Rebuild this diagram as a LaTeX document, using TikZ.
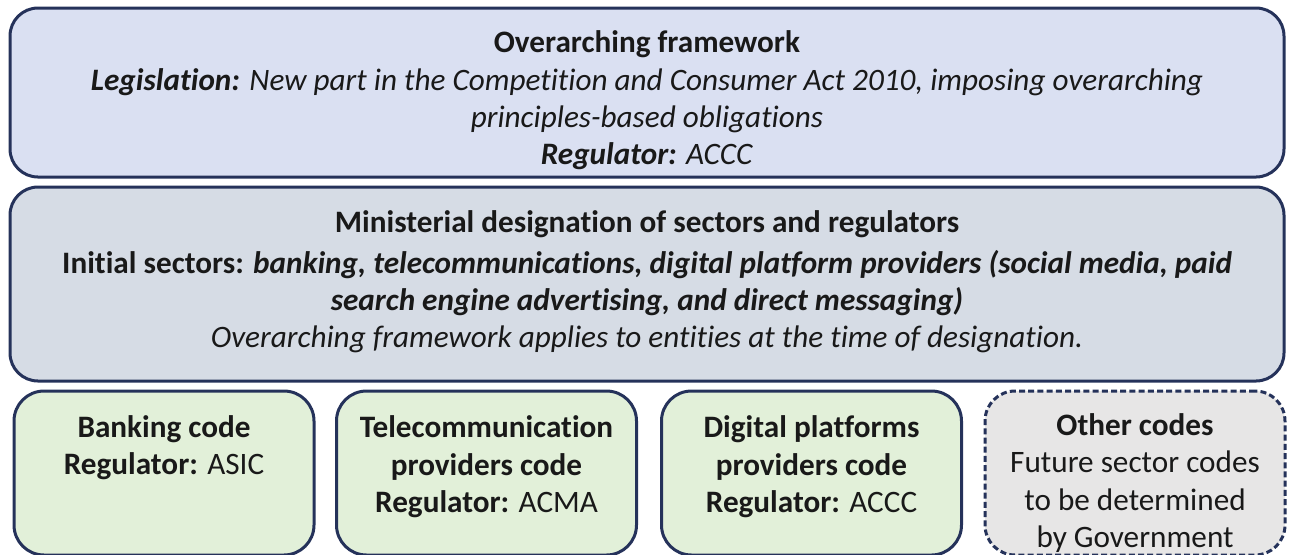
\documentclass[tikz,border=0pt]{standalone}
\usepackage{fontspec}
\setmainfont{Carlito}[Ligatures=NoCommon]
\usetikzlibrary{positioning}

\definecolor{rim}{HTML}{25325A}
\definecolor{lavender}{HTML}{DAE0F2}
\definecolor{slate}{HTML}{D6DCE5}
\definecolor{mint}{HTML}{E2F0D9}
\definecolor{ash}{HTML}{E7E6E6}

\tikzset{
  panel/.style={draw=rim, line width=1.5pt, rounded corners=14pt, inner sep=0pt},
  codebox/.style={panel, rounded corners=15pt, fill=mint, minimum width=150pt, minimum height=82pt},
  futurebox/.style={codebox, fill=ash, dash pattern=on 3pt off 1.6pt},
  txt/.style={align=center, inner sep=0pt, text=black!90, font=\fontsize{15.6}{18.7}\selectfont}
}

\begin{document}
\begin{tikzpicture}[x=0.5pt,y=-0.5pt]
\useasboundingbox (0,0) rectangle (1292,554);

% top layer: the framework
\node[panel, fill=lavender, minimum width=637pt, minimum height=84.5pt] (frame) at (647,92.5) {};
\node[txt] (frametext) at (647,100.5) {\textbf{Overarching framework}\\
  \textit{\textbf{Legislation:} New part in the Competition and Consumer Act 2010, imposing overarching}\\
  \textit{principles-based obligations}\\
  \textit{\textbf{Regulator:} ACCC}};

% middle layer: designation
\node[panel, fill=slate, minimum width=637pt, minimum height=97pt] (desig) at (647,284) {};
\node[txt] (desigtext) at (647,282) {\textbf{Ministerial designation of sectors and regulators}\\[1.5pt]
  \textbf{Initial sectors: \textit{banking, telecommunications, digital platform providers (social media, paid}}\\
  \textbf{\textit{search engine advertising, and direct messaging)}}\\
  \textit{Overarching framework applies to entities at the time of designation.}};

% bottom layer: sector codes
\node[codebox] (bank) at (164,473) {};
\node[txt] (banktext) at (164,447.5) {\textbf{Banking code}\\ \textbf{Regulator:} ASIC};

\node[codebox] (telco) at (486.5,473) {};
\node[txt] (telcotext) at (486.5,467) {\textbf{Telecommunication}\\ \textbf{providers code}\\ \textbf{Regulator:} ACMA};

\node[codebox] (digital) at (811.5,473) {};
\node[txt] (digitaltext) at (811.5,467) {\textbf{Digital platforms}\\ \textbf{providers code}\\ \textbf{Regulator:} ACCC};

\node[futurebox] (other) at (1135,473) {};
\node[txt] (othertext) at (1135,483) {\textbf{Other codes}\\ Future sector codes\\ to be determined\\ by Government};
\end{tikzpicture}
\end{document}
